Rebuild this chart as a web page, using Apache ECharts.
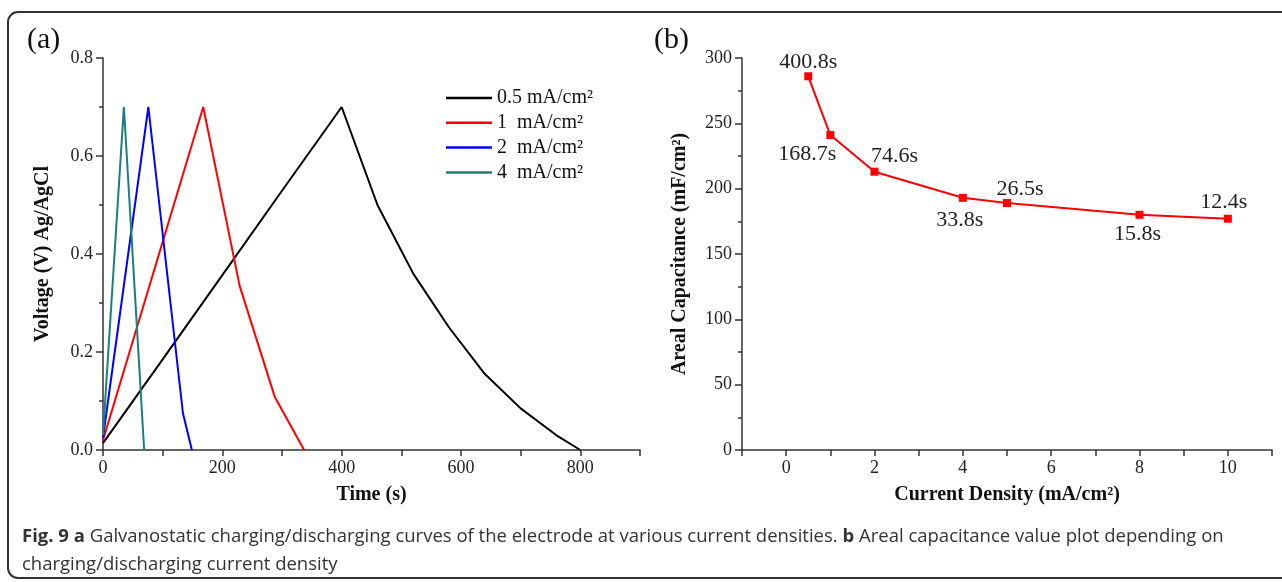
<!DOCTYPE html>
<html lang="en">
<head>
    <meta charset="UTF-8">
    <title>Fig. 9 GCD curves and areal capacitance</title>
    <script src="https://cdn.jsdelivr.net/npm/echarts@6/dist/echarts.min.js"></script>
    <style>
        html, body, #main {
            width: 1282px;
            height: 582px;
            padding: 0;
            margin: 0;
            background: #fff;
        }
    </style>
</head>
<body>
<div id="main"></div>
<script>
    // (a) charge / discharge curves, [time s, voltage V]
    var seriesNames = ["0.5 mA/cm²", "1  mA/cm²", "2  mA/cm²", "4  mA/cm²"];
    var curve05 = [[0, 0.014], [100, 0.185], [200, 0.357], [300, 0.529], [400, 0.70],
        [460, 0.50], [520, 0.36], [580, 0.25], [640, 0.155], [700, 0.085], [760, 0.03], [800, 0.0]];
    var curve1 = [[0, 0.02], [168, 0.70], [229, 0.335], [288, 0.108], [337, 0.0]];
    var curve2 = [[0, 0.025], [76, 0.70], [134, 0.075], [149, 0.0]];
    var curve4 = [[0, 0.03], [35, 0.70], [69, 0.0]];

    // (b) areal capacitance vs current density
    var currentDensity = [0.5, 1, 2, 4, 5, 8, 10];
    var capacitance = [286, 241, 213, 193, 189, 180, 177];
    var dischargeTimes = ["400.8s", "168.7s", "74.6s", "33.8s", "26.5s", "15.8s", "12.4s"];

    var serif = "Liberation Serif";
    var colors = ["#000000", "#ff0000", "#0000ff", "#17807a"];
    var curves = [curve05, curve1, curve2, curve4];

    // where each time label sits around its point
    var labelPlace = [
        ["top", [0, 6]], ["bottom", [-23, -1]], ["top", [20, 5]], ["bottom", [-3, 2]],
        ["top", [13, 6]], ["bottom", [-2, -1]], ["top", [-4, 3]]
    ];

    var axisLineStyle = {color: "#333", width: 1.5};
    var titleStyle = {fontFamily: serif, fontSize: 20, fontWeight: "bold", color: "#111"};

    var chart = echarts.init(document.getElementById("main"), null, {renderer: "canvas"});

    var lineSeries = curves.map(function (c, i) {
        return {
            name: seriesNames[i],
            type: "line",
            xAxisIndex: 0,
            yAxisIndex: 0,
            data: c,
            symbol: "none",
            lineStyle: {color: colors[i], width: 2},
            itemStyle: {color: colors[i]},
            animation: false
        };
    });

    var capData = currentDensity.map(function (x, i) {
        return {
            value: [x, capacitance[i]],
            label: {
                show: true,
                position: labelPlace[i][0],
                offset: labelPlace[i][1],
                formatter: dischargeTimes[i]
            }
        };
    });

    chart.setOption({
        backgroundColor: "#fff",
        animation: false,
        grid: [
            {left: 103, top: 58, width: 537, height: 392},
            {left: 742, top: 58, width: 530, height: 392}
        ],
        legend: {
            data: seriesNames,
            orient: "vertical",
            left: 441,
            top: 83,
            icon: "rect",
            itemWidth: 46,
            itemHeight: 2.5,
            itemGap: 4.8,
            textStyle: {fontFamily: serif, fontSize: 20, lineHeight: 20, color: "#111"}
        },
        xAxis: [{
            gridIndex: 0,
            type: "value",
            min: 0,
            max: 900,
            interval: 100,
            name: "Time (s)",
            nameLocation: "middle",
            nameGap: 35,
            nameTextStyle: titleStyle,
            axisLine: {show: true, onZero: false, lineStyle: axisLineStyle},
            axisTick: {show: true, inside: false, length: 6, lineStyle: axisLineStyle},
            axisLabel: {
                fontFamily: serif, fontSize: 18, color: "#222", margin: 9,
                formatter: function (v) {
                    return (v % 200 === 0 && v < 900) ? String(v) : "";
                }
            },
            splitLine: {show: false}
        }, {
            gridIndex: 1,
            type: "value",
            min: -1,
            max: 11,
            interval: 1,
            name: "Current Density (mA/cm²)",
            nameLocation: "middle",
            nameGap: 35,
            nameTextStyle: titleStyle,
            axisLine: {show: true, onZero: false, lineStyle: axisLineStyle},
            axisTick: {show: true, inside: false, length: 6, lineStyle: axisLineStyle},
            axisLabel: {
                fontFamily: serif, fontSize: 18, color: "#222", margin: 9,
                formatter: function (v) {
                    return (v >= 0 && v % 2 === 0 && v < 11) ? String(v) : "";
                }
            },
            splitLine: {show: false}
        }],
        yAxis: [{
            gridIndex: 0,
            type: "value",
            min: 0,
            max: 0.8,
            interval: 0.2,
            name: "Voltage (V) Ag/AgCl",
            nameLocation: "middle",
            nameGap: 50,
            nameTextStyle: titleStyle,
            axisLine: {show: true, onZero: false, lineStyle: axisLineStyle},
            axisTick: {show: true, inside: false, length: 7, lineStyle: axisLineStyle},
            minorTick: {show: true, splitNumber: 2, length: 4, lineStyle: axisLineStyle},
            axisLabel: {
                fontFamily: serif, fontSize: 18, color: "#222", margin: 10,
                formatter: function (v) { return v.toFixed(1); }
            },
            splitLine: {show: false}
        }, {
            gridIndex: 1,
            type: "value",
            min: 0,
            max: 300,
            interval: 50,
            name: "Areal Capacitance (mF/cm²)",
            nameLocation: "middle",
            nameGap: 52,
            nameTextStyle: titleStyle,
            axisLine: {show: true, onZero: false, lineStyle: axisLineStyle},
            axisTick: {show: true, inside: false, length: 7, lineStyle: axisLineStyle},
            minorTick: {show: true, splitNumber: 2, length: 4, lineStyle: axisLineStyle},
            axisLabel: {fontFamily: serif, fontSize: 18, color: "#222", margin: 10},
            splitLine: {show: false}
        }],
        series: lineSeries.concat([{
            name: "capacitance",
            type: "line",
            xAxisIndex: 1,
            yAxisIndex: 1,
            data: capData,
            symbol: "rect",
            symbolSize: 8,
            lineStyle: {color: "#ff0000", width: 2},
            itemStyle: {color: "#ff0000"},
            label: {fontFamily: serif, fontSize: 22, color: "#222", distance: 5},
            animation: false
        }]),
        graphic: [{
            type: "rect",
            shape: {x: 8, y: 12, width: 1300, height: 566, r: 10},
            style: {fill: null, stroke: "#333", lineWidth: 2},
            silent: true
        }, {
            type: "text",
            left: 27,
            top: 25,
            style: {text: "(a)", font: "30px 'Liberation Serif'", fill: "#111"}
        }, {
            type: "text",
            left: 654,
            top: 25,
            style: {text: "(b)", font: "30px 'Liberation Serif'", fill: "#111"}
        }, {
            type: "text",
            left: 22,
            top: 523,
            style: {
                text: "{b|Fig. 9 a} Galvanostatic charging/discharging curves of the electrode at various current densities. {b|b} Areal capacitance value plot depending on\ncharging/discharging current density",
                fontFamily: "Open Sans",
                fontSize: 18.5,
                lineHeight: 28,
                fill: "#333",
                rich: {
                    b: {fontFamily: "Open Sans", fontSize: 18.5, fontWeight: "bold", fill: "#333", lineHeight: 28}
                }
            }
        }]
    });
</script>
</body>
</html>
